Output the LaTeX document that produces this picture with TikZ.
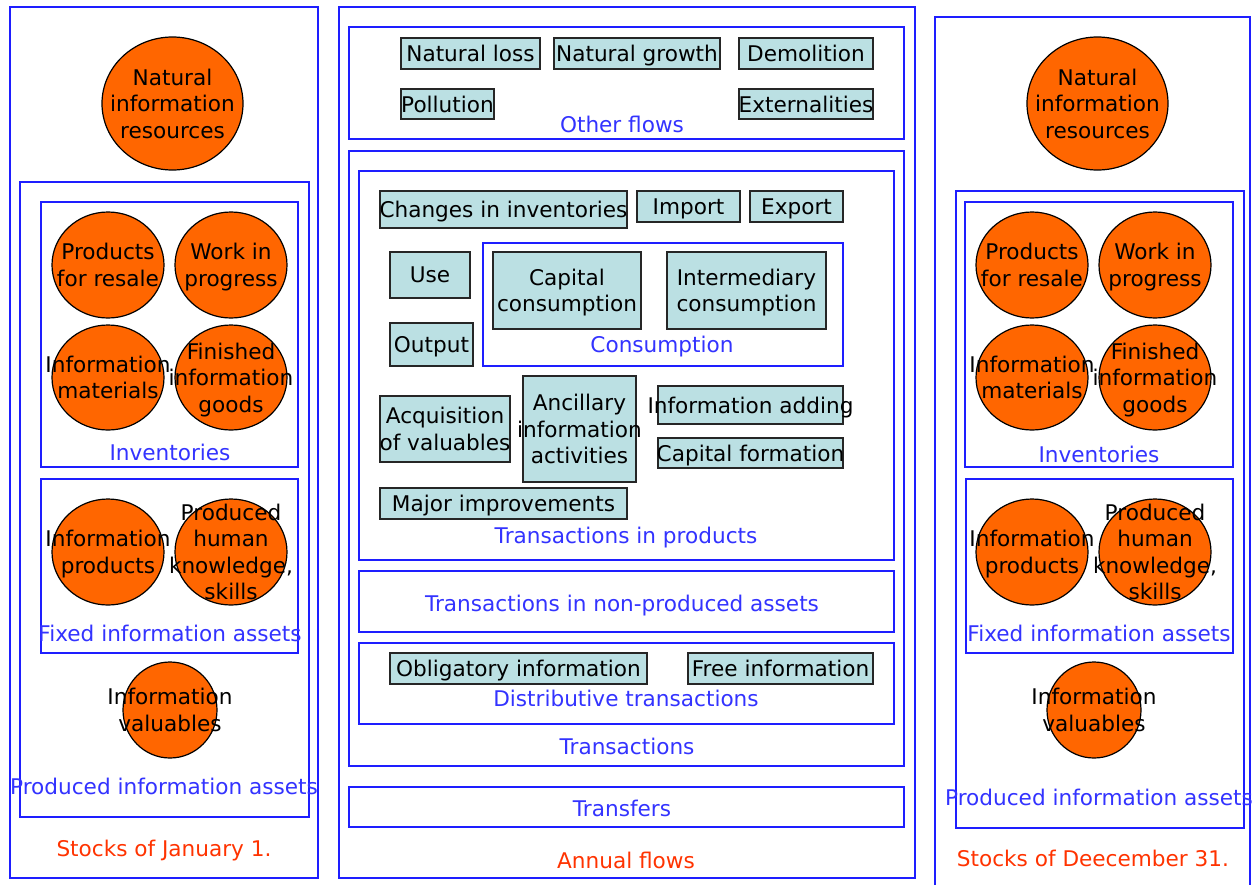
\documentclass[tikz,border=0pt]{standalone}
\usepackage{fontspec}
\setmainfont{DejaVu Sans}
\usetikzlibrary{shapes.geometric,fit}
\definecolor{bl}{RGB}{30,30,255}
\definecolor{bltx}{RGB}{51,51,255}
\definecolor{rd}{RGB}{255,51,0}
\definecolor{orn}{RGB}{255,102,0}
\definecolor{tealc}{RGB}{187,224,227}
\tikzset{
 frame/.style={draw=bl, line width=1.8pt, inner sep=0pt},
 tb/.style={draw=black!85, fill=tealc, line width=1.6pt, inner sep=0pt},
 orb/.style={ellipse, draw=black, fill=orn, line width=1.2pt, inner sep=0pt},
 tx/.style={inner sep=0pt, align=center, text depth=0pt, font=\fontsize{21.6}{26.5}\selectfont},
 lb/.style={tx, text=bltx},
 rl/.style={tx, text=rd},
}
\newcommand\orb[5]{\node[orb, minimum width=#3*2pt, minimum height=#4*2pt] (#1) at #2 {}; \node[tx] (#1t) at (#1) {#5};}
\newcommand\tbx[4]{\node[tb, fit={#2 #3}] (#1) {}; \node[tx] (#1t) at (#1) {#4};}
\begin{document}
\begin{tikzpicture}[x=1pt,y=-1pt]
\useasboundingbox (0,0) rectangle (1259,884);
\fill[white] (0,0) rectangle (1259,884);
% ---------- left column ----------
\node[frame, fit={(10,7) (318,878)}] (Lout) {};
\node[frame, fit={(20,182) (309,817)}] (Lprod) {};
\node[frame, fit={(41,202) (298,467)}] (Linv) {};
\node[frame, fit={(41,479) (298,653)}] (Lfix) {};
\orb{Lnat}{(172.5,103.5)}{70.5}{66.5}{Natural\\information\\resources}
\orb{Lpr}{(108,265)}{56}{53}{Products\\for resale}
\orb{Lwp}{(231,265)}{56}{53}{Work in\\progress}
\orb{Lim}{(108,377.5)}{56}{52.5}{Information\\materials}
\orb{Lfg}{(231,377.5)}{56}{52.5}{Finished\\information\\goods}
\orb{Lip}{(108,552)}{56}{53}{Information\\products}
\orb{Lhk}{(231,552)}{56}{53}{Produced\\human\\knowledge,\\skills}
\orb{Liv}{(170,710)}{47}{48}{Information\\valuables}
\node[lb] (Linvl) at (170,452) {Inventories};
\node[lb] (Lfixl) at (170,633) {Fixed information assets};
\node[lb] (Lprodl) at (164,786) {Produced information assets};
\node[rl] (Loutl) at (164,848) {Stocks of January 1.};
% ---------- middle column ----------
\node[frame, fit={(339,7) (915,878)}] (Mout) {};
\node[frame, fit={(349,27) (904,139)}] (Moth) {};
\node[frame, fit={(349,151) (904,766)}] (Mtr) {};
\node[frame, fit={(359,171) (894,560)}] (Mtp) {};
\node[frame, fit={(483,243) (843,366)}] (Mcons) {};
\node[frame, fit={(359,571) (894,632)}] (Mnp) {};
\node[frame, fit={(359,643) (894,724)}] (Mdist) {};
\node[frame, fit={(349,787) (904,827)}] (Mtrf) {};
\tbx{nl}{(401,38)}{(540,69)}{Natural loss}
\tbx{ng}{(554,38)}{(720,69)}{Natural growth}
\tbx{dm}{(739,38)}{(873,69)}{Demolition}
\tbx{pl}{(401,89)}{(494,119)}{Pollution}
\tbx{ex}{(739,89)}{(873,119)}{Externalities}
\tbx{ci}{(380,191)}{(627,228)}{Changes in inventories}
\tbx{im}{(637,191)}{(740,222)}{Import}
\tbx{xp}{(750,191)}{(843,222)}{Export}
\tbx{us}{(390,252)}{(470,298)}{Use}
\tbx{op}{(390,323)}{(473,366)}{Output}
\tbx{cc}{(493,252)}{(641,329)}{Capital\\consumption}
\tbx{ic}{(667,252)}{(826,329)}{Intermediary\\consumption}
\tbx{av}{(380,396)}{(510,462)}{Acquisition\\of valuables}
\tbx{an}{(523,376)}{(636,482)}{Ancillary\\information\\activities}
\tbx{ia}{(658,386)}{(843,424)}{Information adding}
\tbx{cf}{(658,438)}{(843,468)}{Capital formation}
\tbx{mi}{(380,488)}{(627,519)}{Major improvements}
\tbx{oi}{(390,653)}{(647,684)}{Obligatory information}
\tbx{fi}{(688,653)}{(873,684)}{Free information}
\node[lb] (Mothl) at (622,124) {Other flows};
\node[lb] (Mconsl) at (662,344) {Consumption};
\node[lb] (Mtpl) at (626,535) {Transactions in products};
\node[lb] (Mnpl) at (622,603) {Transactions in non-produced assets};
\node[lb] (Mdistl) at (626,698) {Distributive transactions};
\node[lb] (Mtrl) at (627,746) {Transactions};
\node[lb] (Mtrfl) at (622,808) {Transfers};
\node[rl] (Moutl) at (626,860) {Annual flows};
% ---------- right column ----------
\node[frame, fit={(935,17) (1250,892)}] (Rout) {};
\node[frame, fit={(956,191) (1244,828)}] (Rprod) {};
\node[frame, fit={(965,202) (1233,467)}] (Rinv) {};
\node[frame, fit={(966,479) (1233,653)}] (Rfix) {};
\orb{Rnat}{(1097.5,103.5)}{70.5}{66.5}{Natural\\information\\resources}
\orb{Rpr}{(1032,265)}{56}{53}{Products\\for resale}
\orb{Rwp}{(1155,265)}{56}{53}{Work in\\progress}
\orb{Rim}{(1032,377.5)}{56}{52.5}{Information\\materials}
\orb{Rfg}{(1155,377.5)}{56}{52.5}{Finished\\information\\goods}
\orb{Rip}{(1032,552)}{56}{53}{Information\\products}
\orb{Rhk}{(1155,552)}{56}{53}{Produced\\human\\knowledge,\\skills}
\orb{Riv}{(1094,710)}{47}{48}{Information\\valuables}
\node[lb] (Rinvl) at (1099,454) {Inventories};
\node[lb] (Rfixl) at (1099,633) {Fixed information assets};
\node[lb] (Rprodl) at (1099,797) {Produced information assets};
\node[rl] (Routl) at (1093,858) {Stocks of Deecember 31.};
\end{tikzpicture}
\end{document}
